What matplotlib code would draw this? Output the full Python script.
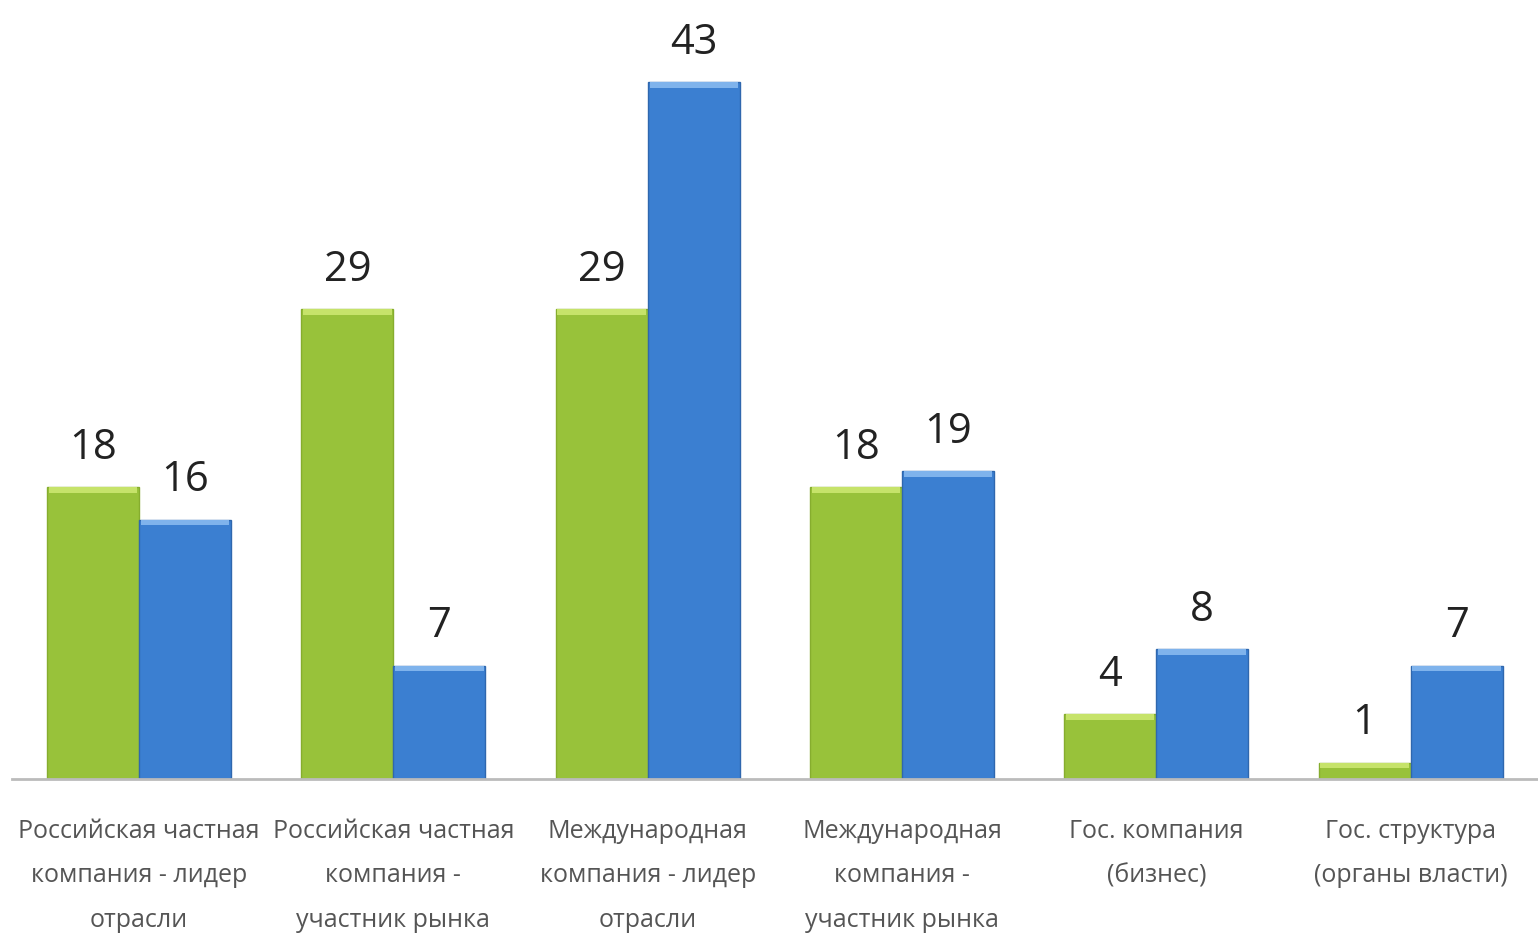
import matplotlib
matplotlib.use("Agg")
import matplotlib.pyplot as plt
import numpy as np

categories = [
    "Российская частная\nкомпания - лидер\nотрасли",
    "Российская частная\nкомпания -\nучастник рынка",
    "Международная\nкомпания - лидер\nотрасли",
    "Международная\nкомпания -\nучастник рынка",
    "Гос. компания\n(бизнес)",
    "Гос. структура\n(органы власти)",
]
green_values = [18, 29, 29, 18, 4, 1]
blue_values = [16, 7, 43, 19, 8, 7]

fam = ["Open Sans", "DejaVu Sans"]
plt.rcParams['font.family'] = fam

fig = plt.figure(figsize=(15.38, 9.45), dpi=100)
ax = fig.add_axes([0.0078, 0.1746, 0.992, 0.823])

x = np.arange(len(categories))
w = 0.362
ax.bar(x - w / 2, green_values, w, color="#98C23A", edgecolor="#86AD2E", linewidth=1)
ax.bar(x + w / 2, blue_values, w, color="#3B7FD1", edgecolor="#2F67AE", linewidth=1)

# top highlights
ax.bar(x - w / 2, [0.35] * len(x), w * 0.96, bottom=np.array(green_values) - 0.35,
       color="#C6E36A", linewidth=0)
ax.bar(x + w / 2, [0.35] * len(x), w * 0.96, bottom=np.array(blue_values) - 0.35,
       color="#7FB3EC", linewidth=0)

for xi, v in zip(x - w / 2, green_values):
    ax.annotate(str(v), (xi, v), xytext=(0, 14), textcoords="offset points",
                ha="center", va="bottom", fontsize=30, color="#222222")
for xi, v in zip(x + w / 2, blue_values):
    ax.annotate(str(v), (xi, v), xytext=(0, 14), textcoords="offset points",
                ha="center", va="bottom", fontsize=30, color="#222222")

ax.set_xlim(-0.5, len(categories) - 0.5)
ax.set_ylim(0, 48)
ax.set_yticks([])
ax.set_xticks(x)
ax.set_xticklabels(categories, fontsize=18, color="#555555", linespacing=2.03)
ax.tick_params(axis="x", length=0, pad=28)
for s in ["top", "right", "left"]:
    ax.spines[s].set_visible(False)
ax.spines["bottom"].set_color("#BBBBBB")
ax.spines["bottom"].set_linewidth(2)

fig.savefig("out.png", dpi=100)
